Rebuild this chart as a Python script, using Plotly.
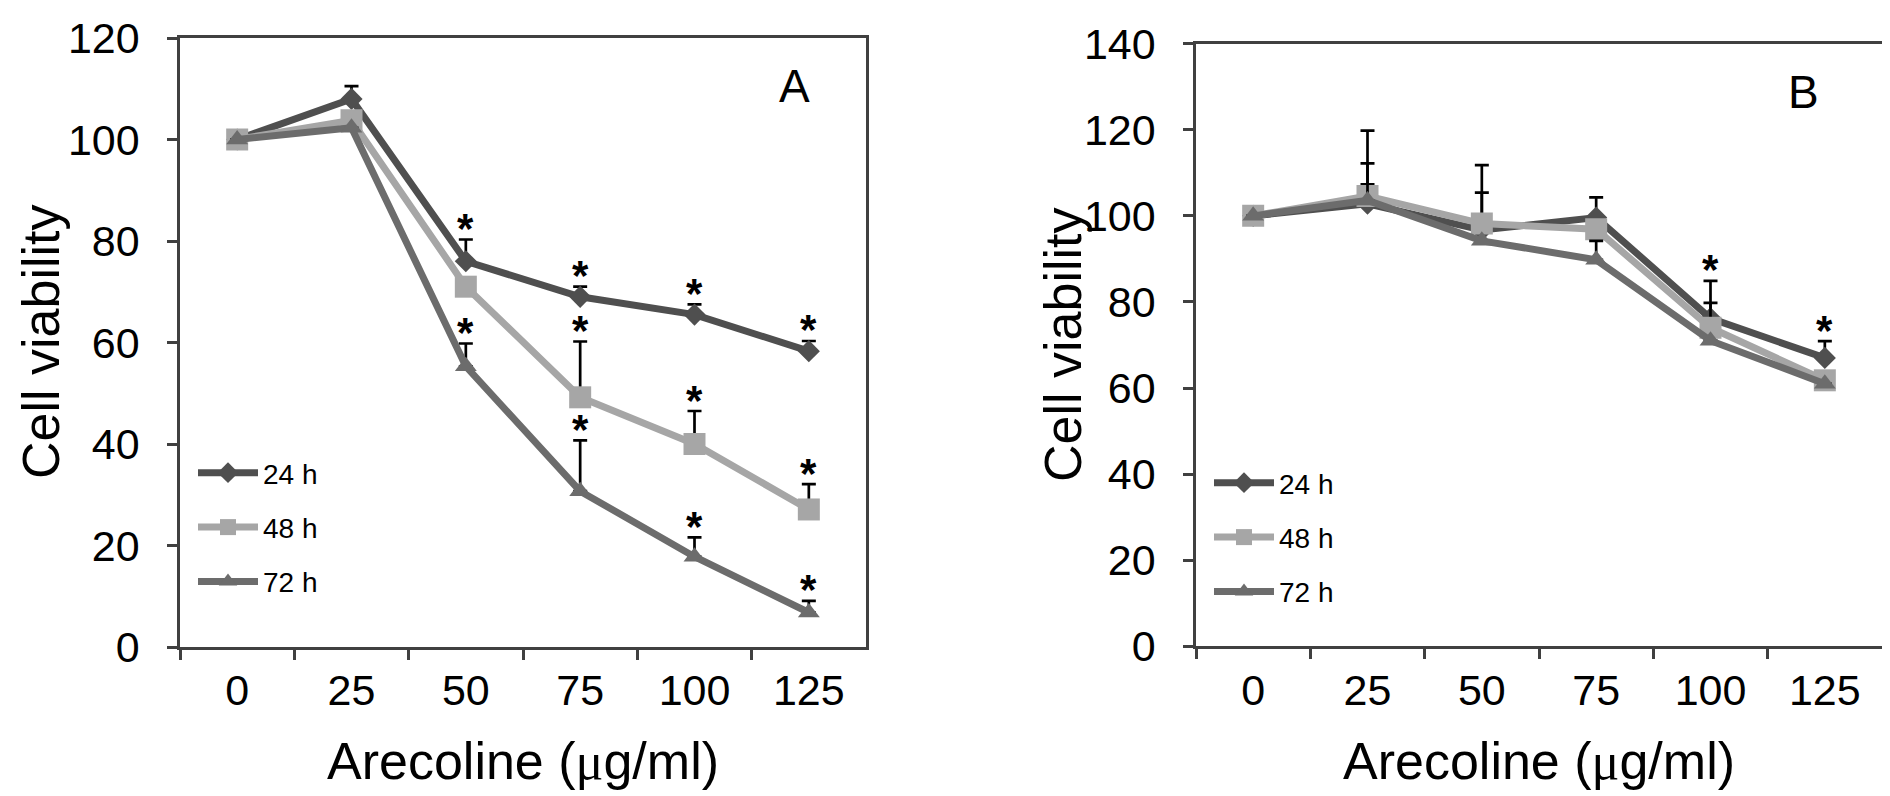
import plotly.graph_objects as go

# ---------------- data ----------------
conc = ["0", "25", "50", "75", "100", "125"]
series_names = ["24 h", "48 h", "72 h"]

# Panel A
a24 = [100, 108.0, 76.0, 69.0, 65.5, 58.3]
a24_err = [0, 2.5, 4.3, 2.0, 2.0, 2.0]
a48 = [100, 103.8, 71.0, 49.2, 40.0, 27.1]
a48_err = [0, 0, 0, 11.0, 6.5, 5.0]
a72 = [100, 102.3, 55.3, 30.7, 17.8, 6.8]
a72_err = [0, 0, 4.5, 10.0, 3.8, 2.3]
a_star_24 = [False, False, True, True, True, True]
a_star_48 = [False, False, False, True, True, True]
a_star_72 = [False, False, True, True, True, True]

# Panel B
b24 = [100, 102.8, 96.7, 99.6, 76.2, 67.0]
b24_err = [0, 4.5, 8.7, 4.7, 3.6, 3.9]
b48 = [100, 104.6, 98.2, 96.9, 74.0, 61.8]
b48_err = [0, 15.2, 13.6, 0, 10.9, 0]
b72 = [100, 103.6, 94.2, 89.8, 71.0, 61.0]
b72_err = [0, 8.6, 0, 4.4, 0, 0]
b_star = [False, False, False, False, True, True]

y_title = "Cell viability"
x_title = 'Arecoline (<span style="font-family:Liberation Serif, Times New Roman, serif">μ</span>g/ml)'
panel_labels = ["A", "B"]

# ---------------- style ----------------
colors = ["#4f4f4f", "#a6a6a6", "#6c6c6c"]
symbols = ["diamond", "square", "triangle-up"]
msizes = [17, 22, 19]
FONT = "Liberation Sans, Arial, sans-serif"
AXC = "#404040"

W, H = 1890, 796
fig = go.Figure()

def add_series(vals, errs, i, xa, ya, legend):
    fig.add_trace(go.Scatter(
        x=conc, y=vals, name=series_names[i], mode="lines+markers",
        xaxis=xa, yaxis=ya, legend=legend, legendgroup=legend + str(i),
        line=dict(color=colors[i], width=7),
        marker=dict(symbol=symbols[i], size=msizes[i], color=colors[i],
                    line=dict(width=0)),
        error_y=dict(type="data", array=errs, arrayminus=[0] * len(errs),
                     symmetric=False, color="black", thickness=2.7, width=7),
    ))

for i, (v, e) in enumerate([(a24, a24_err), (a48, a48_err), (a72, a72_err)]):
    add_series(v, e, i, "x", "y", "legend")
for i, (v, e) in enumerate([(b24, b24_err), (b48, b48_err), (b72, b72_err)]):
    add_series(v, e, i, "x2", "y2", "legend2")

annotations = []
def star(k, ytop, xr, yr):
    annotations.append(dict(x=k, y=ytop, xref=xr, yref=yr, text="<b>*</b>",
                            showarrow=False, yanchor="middle", yshift=11,
                            font=dict(family=FONT, size=42, color="black")))

for vals, errs, flags in [(a24, a24_err, a_star_24), (a48, a48_err, a_star_48),
                          (a72, a72_err, a_star_72)]:
    for k, (v, e, f) in enumerate(zip(vals, errs, flags)):
        if f:
            star(k, v + e, "x", "y")
for k, f in enumerate(b_star):
    if f:
        top = max(b24[k] + b24_err[k], b48[k] + b48_err[k], b72[k] + b72_err[k])
        star(k, top, "x2", "y2")

def paper_text(text, px, py, size, angle=0):
    annotations.append(dict(x=px / W, y=1 - py / H, xref="paper", yref="paper",
                            text=text, showarrow=False, textangle=angle,
                            xanchor="center", yanchor="middle",
                            font=dict(family=FONT, size=size, color="black")))

paper_text(panel_labels[0], 786, 78, 46)
paper_text(panel_labels[1], 1795, 84, 46)
paper_text(y_title, 33, 334, 52, -90)
paper_text(y_title, 1055, 337, 52, -90)
paper_text(x_title, 515, 753, 52)
paper_text(x_title, 1531, 753, 52)

def xaxis_cfg(domain, anchor):
    return dict(domain=domain, anchor=anchor, type="category", tickson="boundaries",
                range=[-0.5, len(conc) - 0.5], tickangle=0, automargin=False,
                showline=True, mirror=True, linecolor=AXC, linewidth=2.5,
                ticks="outside", ticklen=10, tickwidth=2.5, tickcolor=AXC,
                showgrid=False, zeroline=False, ticklabelstandoff=4,
                tickfont=dict(family=FONT, size=43, color="black"))

def yaxis_cfg(domain, rng, anchor):
    return dict(domain=domain, range=rng, dtick=20, anchor=anchor, automargin=False,
                showline=True, mirror=True, linecolor=AXC, linewidth=2.5,
                ticks="outside", ticklen=10, tickwidth=2.5, tickcolor=AXC,
                showgrid=False, zeroline=False, ticklabelstandoff=19,
                tickfont=dict(family=FONT, size=43, color="black"))

legend_common = dict(xanchor="left", yanchor="top", xref="paper", yref="paper",
                     font=dict(family=FONT, size=28, color="black"),
                     itemwidth=60, tracegroupgap=15, bgcolor="rgba(0,0,0,0)",
                     traceorder="grouped", itemsizing="trace")

fig.update_layout(
    width=W, height=H, autosize=False,
    margin=dict(l=0, r=0, t=0, b=0, autoexpand=False),
    paper_bgcolor="white", plot_bgcolor="white",
    xaxis=xaxis_cfg([172 / W, 858 / W], "y"),
    yaxis=yaxis_cfg([1 - 639 / H, 1 - 30 / H], [0, 120], "x"),
    xaxis2=xaxis_cfg([1188 / W, 1874 / W], "y2"),
    yaxis2=yaxis_cfg([1 - 638.3 / H, 1 - 35.7 / H], [0, 140], "x2"),
    legend=legend_common | dict(x=185 / W, y=1 - 440 / H),
    legend2=legend_common | dict(x=1201 / W, y=1 - 450 / H),
    annotations=annotations,
    showlegend=True,
)

fig.write_html("out.html")
